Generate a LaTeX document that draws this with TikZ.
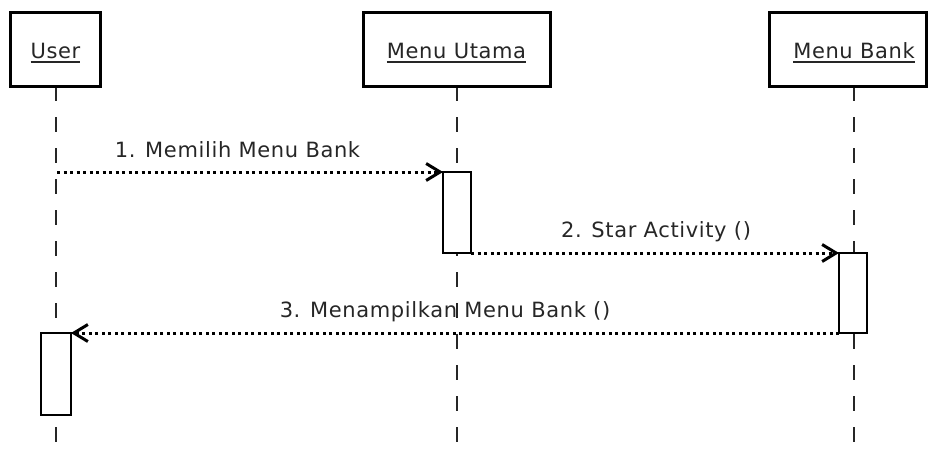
\documentclass[tikz,border=0pt]{standalone}
\usepackage{fontspec}
\setmainfont{DejaVu Sans}[LetterSpace=3]
\usetikzlibrary{arrows.meta}
\newcommand{\myul}[1]{\setbox0\hbox{#1}\rlap{\rule[-5pt]{\wd0}{1.6pt}}\box0}
\begin{document}
\begin{tikzpicture}[x=1pt,y=-1pt,
  objbox/.style={draw=black,line width=3pt,fill=white,minimum width=#1,minimum height=74pt,inner sep=0pt},
  actbox/.style={draw=black,line width=2.6pt,fill=white,minimum width=28pt,minimum height=#1,inner sep=0pt,outer sep=0pt},
  lifeline/.style={draw=black!85,line width=1.7pt,dash pattern=on 15pt off 16pt},
  msg/.style={draw=black,line width=3pt,dash pattern=on 3pt off 3.5pt,-{Straight Barb[length=14pt,width=17pt,line width=3pt]}},
  lbl/.style={anchor=base,inner sep=0pt,text=black!85,font=\fontsize{21}{25}\selectfont},
  title/.style={anchor=base,inner sep=0pt,text=black!85,font=\fontsize{21}{25}\selectfont}
]
\useasboundingbox (0,0) rectangle (928,455);
% lifeline ends
\coordinate (userTop) at (56,86);
\coordinate (userBot) at (56,455);
\coordinate (mainTop) at (457,86);
\coordinate (mainBot) at (457,455);
\coordinate (bankTop) at (854,86);
\coordinate (bankBot) at (854,455);
% lifelines
\draw[lifeline] (userTop) -- (userBot);
\draw[lifeline] (mainTop) -- (mainBot);
\draw[lifeline] (bankTop) -- (bankBot);
% object boxes
\node[objbox=90pt] (user) at (55,49) {};
\node[objbox=187pt] (main) at (456.5,49) {};
\node[objbox=157pt] (bank) at (847.5,49) {};
\node[title] (userT) at (55.5,58) {\myul{User}};
\node[title] (mainT) at (456.5,58) {\myul{Menu Utama}};
\node[title] (bankT) at (854,58) {\myul{Menu Bank}};
% activations
\node[actbox=81pt] (a1) at (457,212.5) {};
\node[actbox=80pt] (a2) at (853,293) {};
\node[actbox=82pt,minimum width=30pt] (a3) at (56,374) {};
% messages
\coordinate (m1s) at (57,172);
\draw[msg] (m1s) -- (a1.north west);
\draw[msg] (a1.south east) -- (a2.north west);
\draw[msg] (a2.south west) -- (a3.north east);
% labels
\node[lbl] (l1) at (237.5,157) {1. Memilih Menu Bank};
\node[lbl] (l2) at (656,237) {2. Star Activity ()};
\node[lbl] (l3) at (445,317) {3. Menampilkan Menu Bank ()};
\end{tikzpicture}
\end{document}
